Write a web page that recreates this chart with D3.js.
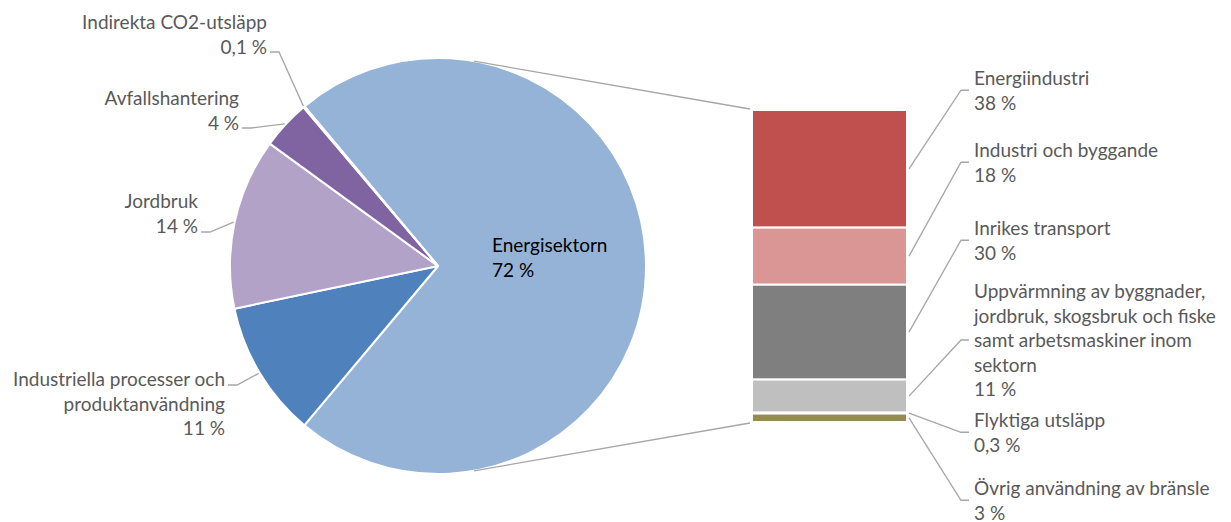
<!DOCTYPE html>
<html>
<head>
<meta charset="utf-8">
<script src="https://cdn.jsdelivr.net/npm/d3@7"></script>
<style>
  body { margin: 0; background: #fff; }
  text { font-family: Lato, "Open Sans", sans-serif; font-size: 19px; }
</style>
</head>
<body>
<script>
// pie: total emissions by sector (share of total, %)
const pieNames = ['Energisektorn', 'Industriella processer och produktanvändning', 'Jordbruk', 'Avfallshantering', 'Indirekta CO2-utsläpp']
const pieValues = [72.2, 10.6, 13.3, 3.8, 0.1]
const pieLabels = [
  ['Energisektorn', '72 %'],
  ['Industriella processer och', 'produktanvändning', '11 %'],
  ['Jordbruk', '14 %'],
  ['Avfallshantering', '4 %'],
  ['Indirekta CO2-utsläpp', '0,1 %']
]

// bar: split of energisektorn (share of the sector, %)
const barNames = ['Energiindustri', 'Industri och byggande', 'Inrikes transport', 'Uppvärmning', 'Flyktiga utsläpp', 'Övrig användning av bränsle']
const barValues = [37.7, 18.3, 30.4, 10.6, 0.3, 2.7]
const barLabels = [
  ['Energiindustri', '38 %'],
  ['Industri och byggande', '18 %'],
  ['Inrikes transport', '30 %'],
  ['Uppvärmning av byggnader,', 'jordbruk, skogsbruk och fiske', 'samt arbetsmaskiner inom', 'sektorn', '11 %'],
  ['Flyktiga utsläpp', '0,3 %'],
  ['Övrig användning av bränsle', '3 %']
]

const pieColors = ['#95b3d7', '#4f81bd', '#b3a2c7', '#8064a2', '#604a7b']
const barColors = ['#c0504d', '#d99694', '#7f7f7f', '#bfbfbf', '#c4bd97', '#948a54']

var w = 1231
var h = 522
var cx = 438, cy = 266, r = 208
var barX = 752, barW = 155, barTop = 110, barBottom = 422
var lineH = 24.5
var labelGray = '#595959'
var leaderGray = '#a6a6a6'

// label placement (text anchor x, first baseline, leader y)
const pieLabelPos = [
  { x: 492, y: 252, anchor: 'start' },
  { x: 225, y: 386, ly: 385, anchor: 'end' },
  { x: 198, y: 208, ly: 232, anchor: 'end' },
  { x: 239, y: 105, ly: 128, anchor: 'end' },
  { x: 267, y: 29, ly: 52, anchor: 'end' }
]
const barLabelY = [85, 157, 235, 298, 427, 495]
var barLabelX = 974

var svg = d3.select('body')
  .append('svg')
  .attr('width', w)
  .attr('height', h)

// pie
var toRad = Math.PI / 180
var total = d3.sum(pieValues)
var firstSpan = pieValues[0] / total * 360
var start = (220 - firstSpan) * toRad

var pie = d3.pie()
  .sort(null)
  .startAngle(start)
  .endAngle(start + 2 * Math.PI)

var arcs = pie(pieValues)
var arc = d3.arc().innerRadius(0).outerRadius(r)

var g = svg.append('g').attr('transform', `translate(${cx},${cy})`)

g.selectAll('path')
  .data(arcs)
  .enter()
  .append('path')
  .attr('d', arc)
  .attr('fill', function (d, i) { return pieColors[i] })
  .attr('stroke', '#fff')
  .attr('stroke-width', 2)
  .attr('stroke-linejoin', 'round')

// bar
var barScale = d3.scaleLinear()
  .domain([0, d3.sum(barValues)])
  .range([barTop, barBottom])

var cum = d3.cumsum(barValues)
var segs = barValues.map(function (v, i) {
  return { y0: cum[i] - v, y1: cum[i], i: i }
})

// connector lines from pie tangents to bar corners
function tangent(px, py, side) {
  var dx = px - cx, dy = py - cy
  var d = Math.sqrt(dx * dx + dy * dy)
  var a = Math.atan2(dy, dx) + side * Math.acos(r / d)
  return [cx + r * Math.cos(a), cy + r * Math.sin(a)]
}
var t1 = tangent(barX, barScale(0), -1)
var t2 = tangent(barX, barScale(d3.sum(barValues)), 1)
svg.append('line')
  .attr('x1', t1[0]).attr('y1', t1[1])
  .attr('x2', barX - 2).attr('y2', barScale(0) - 1)
  .attr('stroke', leaderGray).attr('stroke-width', 1.3)
svg.append('line')
  .attr('x1', t2[0]).attr('y1', t2[1])
  .attr('x2', barX - 2).attr('y2', barScale(d3.sum(barValues)) + 1)
  .attr('stroke', leaderGray).attr('stroke-width', 1.3)

svg.selectAll('rect.seg')
  .data(segs)
  .enter()
  .append('rect')
  .attr('class', 'seg')
  .attr('x', barX)
  .attr('width', barW)
  .attr('y', function (d) { return barScale(d.y0) })
  .attr('height', function (d) { return barScale(d.y1) - barScale(d.y0) })
  .attr('fill', function (d) { return barColors[d.i] })
  .attr('stroke', '#fff')
  .attr('stroke-width', 2)

// pie labels and leaders
arcs.forEach(function (d, i) {
  var p = pieLabelPos[i]
  var t = svg.append('text')
    .attr('x', p.x)
    .attr('y', p.y)
    .attr('text-anchor', p.anchor)
    .attr('fill', i === 0 ? '#000' : labelGray)
  pieLabels[i].forEach(function (s, k) {
    t.append('tspan').attr('x', p.x).attr('y', p.y + k * lineH).text(s)
  })
  if (i === 0) return
  var mid = (d.startAngle + d.endAngle) / 2
  var ex = cx + (r + 1) * Math.sin(mid)
  var ey = cy - (r + 1) * Math.cos(mid)
  svg.append('polyline')
    .attr('points', [[p.x + 3, p.ly], [p.x + 12, p.ly], [ex, ey]].join(' '))
    .attr('fill', 'none')
    .attr('stroke', leaderGray)
    .attr('stroke-width', 1.3)
})

// bar labels and leaders
segs.forEach(function (d, i) {
  var y0 = barLabelY[i]
  var lines = barLabels[i]
  var t = svg.append('text')
    .attr('x', barLabelX)
    .attr('y', y0)
    .attr('fill', labelGray)
  lines.forEach(function (s, k) {
    t.append('tspan').attr('x', barLabelX).attr('y', y0 + k * lineH).text(s)
  })
  var ly = (y0 + y0 + (lines.length - 1) * lineH) / 2 - 7
  var my = (barScale(d.y0) + barScale(d.y1)) / 2
  svg.append('polyline')
    .attr('points', [[barX + barW + 2, my], [barLabelX - 13, ly], [barLabelX - 5, ly]].join(' '))
    .attr('fill', 'none')
    .attr('stroke', leaderGray)
    .attr('stroke-width', 1.3)
})
</script>
</body>
</html>
